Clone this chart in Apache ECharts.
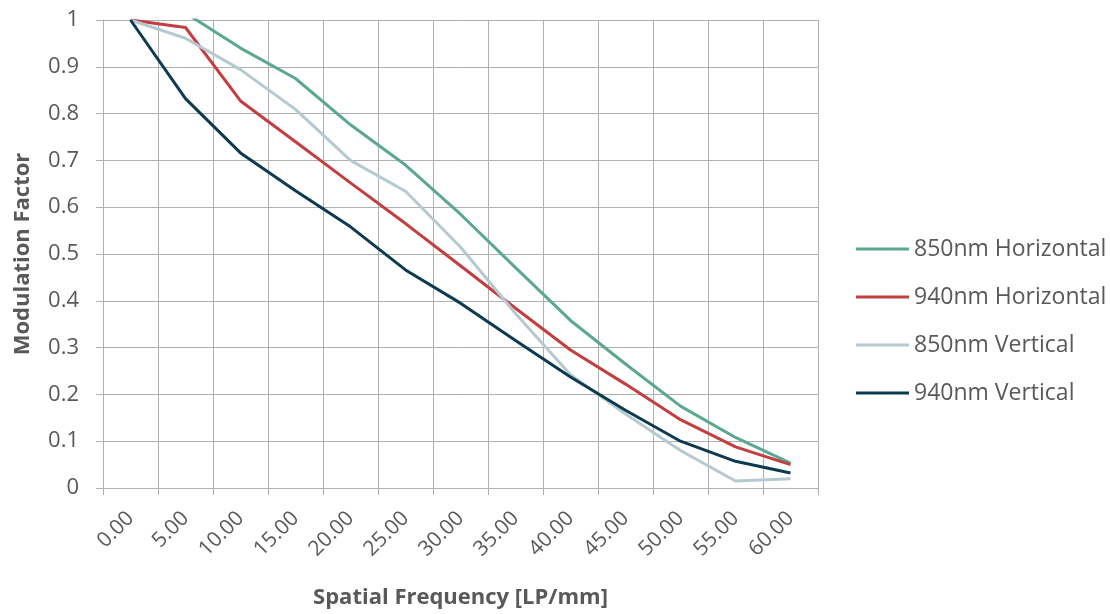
<!DOCTYPE html>
<html>
<head>
<meta charset="utf-8">
<script src="https://cdn.jsdelivr.net/npm/echarts@6/dist/echarts.min.js"></script>
<style>
  html, body { margin: 0; padding: 0; background: #ffffff; }
  #chart { width: 1110px; height: 614px; }
</style>
</head>
<body>
<div id="chart"></div>
<script>
const categories = ['0.00','5.00','10.00','15.00','20.00','25.00','30.00','35.00','40.00','45.00','50.00','55.00','60.00'];
const h850 = [1.02, 1.015, 0.94, 0.875, 0.776, 0.69, 0.585, 0.471, 0.358, 0.265, 0.175, 0.108, 0.053];
const h940 = [1.0, 0.984, 0.827, 0.74, 0.652, 0.565, 0.475, 0.384, 0.295, 0.222, 0.146, 0.088, 0.05];
const v850 = [1.0, 0.961, 0.894, 0.809, 0.70, 0.634, 0.515, 0.373, 0.242, 0.158, 0.08, 0.015, 0.02];
const v940 = [1.0, 0.832, 0.716, 0.635, 0.558, 0.466, 0.395, 0.315, 0.237, 0.166, 0.10, 0.057, 0.032];
const seriesNames = ['850nm Horizontal', '940nm Horizontal', '850nm Vertical', '940nm Vertical'];
const seriesData = [h850, h940, v850, v940];
const colors = ['#5AA891', '#C43D3F', '#B6C9D1', '#0C3A50'];

const FONT = '"Open Sans", sans-serif';
const TXT = '#595959';
const GRIDC = '#b0b0b0';

const chart = echarts.init(document.getElementById('chart'), null, { renderer: 'canvas' });
chart.setOption({
  animation: false,
  backgroundColor: '#ffffff',
  color: colors,
  grid: { left: 103, right: 292, top: 20, bottom: 122 },
  legend: {
    orient: 'vertical',
    left: 851,
    top: 232,
    icon: 'rect',
    itemWidth: 53,
    itemHeight: 3,
    itemGap: 24,
    textStyle: { fontFamily: FONT, fontSize: 23, color: TXT, lineHeight: 24 },
    data: seriesNames
  },
  xAxis: {
    type: 'category',
    data: categories,
    boundaryGap: true,
    name: 'Spatial Frequency [LP/mm]',
    nameLocation: 'middle',
    nameGap: 99,
    nameTextStyle: { fontFamily: FONT, fontSize: 22, fontWeight: 'bold', color: TXT },
    axisLine: { show: true, lineStyle: { color: GRIDC, width: 1 } },
    axisTick: { show: true, length: 7, lineStyle: { color: GRIDC } },
    splitLine: { show: true, lineStyle: { color: GRIDC, width: 1 } },
    axisLabel: { rotate: 45, margin: 27, fontFamily: FONT, fontSize: 21, color: TXT, interval: 0 }
  },
  yAxis: {
    type: 'value',
    min: 0,
    max: 1,
    interval: 0.1,
    name: 'Modulation Factor',
    nameLocation: 'middle',
    nameGap: 69,
    nameTextStyle: { fontFamily: FONT, fontSize: 22, fontWeight: 'bold', color: TXT },
    axisLine: { show: true, lineStyle: { color: GRIDC, width: 1 } },
    axisTick: { show: true, length: 7, lineStyle: { color: GRIDC } },
    splitLine: { show: true, lineStyle: { color: GRIDC, width: 1 } },
    axisLabel: {
      margin: 24, fontFamily: FONT, fontSize: 22, color: TXT,
      formatter: v => String(+v.toFixed(1))
    }
  },
  series: seriesNames.map((n, i) => ({
    name: n,
    type: 'line',
    data: seriesData[i],
    symbol: 'none',
    clip: true,
    lineStyle: { width: 3, color: colors[i] },
    itemStyle: { color: colors[i] }
  }))
});
</script>
</body>
</html>
